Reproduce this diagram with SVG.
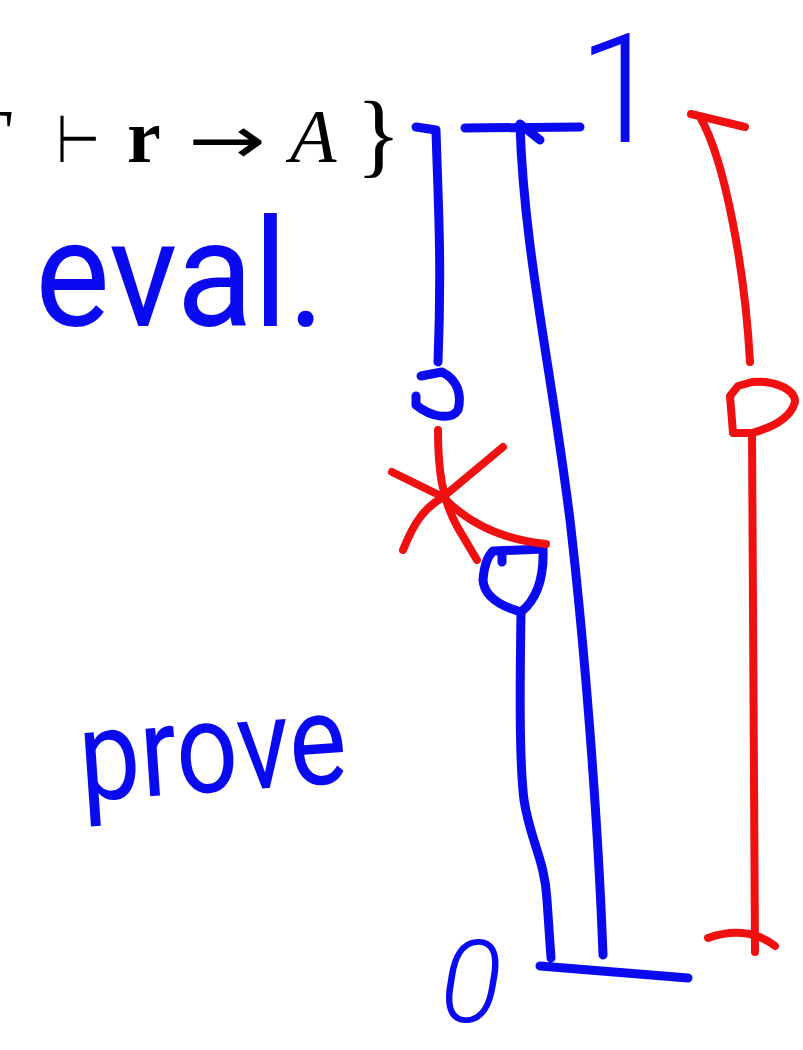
<svg xmlns="http://www.w3.org/2000/svg" width="803" height="1050" viewBox="0 0 803 1050">
<style>
.b{fill:none;stroke:#0a0af0;stroke-width:9;stroke-linecap:round;stroke-linejoin:round}
.r{fill:none;stroke:#f01010;stroke-width:8;stroke-linecap:round;stroke-linejoin:round}
.m{font-family:"Liberation Serif","DejaVu Serif",serif;font-size:76px;fill:#000}
.h{font-family:Roboto,"DejaVu Sans",sans-serif;font-weight:normal;fill:#0a0af0}
.d{font-family:Roboto,"DejaVu Sans",sans-serif;font-weight:300;fill:#0a0af0}
</style>
<rect width="803" height="1050" fill="#fff"/>
<g id="formula">
<text class="m" x="-34" y="162" font-style="italic">Γ</text>
<text class="m" x="56" y="162" style="font-family:'DejaVu Sans',sans-serif;font-size:66px" textLength="44" lengthAdjust="spacingAndGlyphs">⊢</text>
<text class="m" x="127" y="162" font-weight="bold">r</text>
<text class="m" x="188" y="163" style="font-family:'DejaVu Sans',sans-serif;font-size:66px" textLength="78" lengthAdjust="spacingAndGlyphs">→</text>
<text class="m" x="290" y="162" font-style="italic">A</text>
<text class="m" x="356" y="166" style="font-size:94px">}</text>
</g>
<g id="label-eval"><text class="h" x="35" y="326" font-size="150" textLength="290" lengthAdjust="spacingAndGlyphs">eval.</text></g>
<g id="label-prove"><text class="h" x="80" y="792" font-size="128" textLength="268" lengthAdjust="spacingAndGlyphs" transform="rotate(-4 210 770)">prove</text></g>
<g id="label-1"><text class="d" x="578" y="142" font-size="152">1</text></g>
<g id="label-0"><text class="d" x="440" y="1022" font-size="115" font-style="italic">0</text></g>
<g id="connectors">
<g id="blue-left">
<path class="b" d="M416,127 L436,130 C438,200 442,260 438,362"/>
<path class="b" d="M421,376 L442,372 C458,380 462,395 458,410 C452,420 432,418 416,405 L416,396"/>
<path class="b" d="M493,551 L543,549 C544,575 538,598 521,612 C500,606 484,596 483,580 C484,566 488,556 493,551 M502,552 L502,562"/>
<path class="b" d="M521,612 C520,680 519,760 524,800 C530,840 545,860 547,900 L551,958 M540,966 L688,978"/>
</g>
<g id="blue-middle">
<path class="b" d="M465,128 L580,127 M520,124 L540,140 M520,125 C524,250 550,360 570,520 C585,650 598,820 603,955"/>
</g>
<g id="red-cross">
<path class="r" d="M438,430 C438,470 442,500 458,528 L477,560"/>
<path class="r" d="M392,472 L443,497 C470,525 505,540 546,544"/>
<path class="r" d="M403,550 C415,520 425,508 443,497 L503,447"/>
</g>
<g id="red-right">
<path class="r" d="M691,114 L745,127 M700,117 C725,160 745,270 750,362"/>
<path class="r" d="M738,386 L752,382 C772,380 795,388 795,402 C790,420 770,428 752,433 L733,433 L730,396 Z"/>
<path class="r" d="M752,434 L755,952 M708,938 C730,930 755,930 775,946"/>
</g>
</g>
</svg>
